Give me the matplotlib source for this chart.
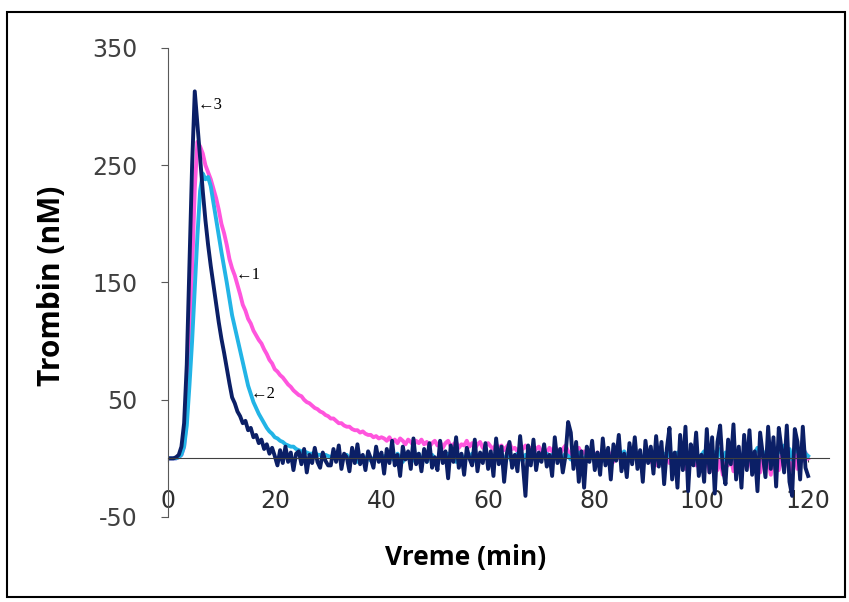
import numpy as np
import matplotlib.pyplot as plt
from matplotlib.patches import Rectangle

plt.rcParams['axes.unicode_minus'] = False

# vreme (min), korak 0.5 min
minutes = np.arange(0, 120.5, 0.5)

# kriva 1 (roze)
trombin_1 = [0, 0, 0, 0, 1, 3, 10, 35, 90, 160, 230, 270, 266, 260, 250, 244, 238, 230, 222, 212, 200,
             192, 182, 170, 162, 156, 148, 140, 131, 126, 119, 115, 109, 105, 101, 98, 93, 89, 84, 81, 76,
             74, 71, 69, 66, 63, 61, 58, 56, 54, 53, 50, 48, 47, 45, 43, 42, 40, 39, 37, 36,
             34, 34, 32, 30, 30, 28, 27, 27, 25, 24, 24, 22, 23, 21, 20, 20, 18, 19, 17, 18,
             17, 15, 18, 14, 16, 13, 17, 15, 12, 16, 14, 11, 15, 13, 16, 12, 14, 10, 13, 15,
             11, 14, 9, 13, 15, 10, 12, 14, 9, 12, 11, 15, 10, 13, 8, 12, 14, 9, 11, 13,
             10, 8, 12, 9, 11, 7, 10, 13, 8, 9, 6, 10, 8, 11, 7, 9, 5, 8, 10, 6,
             8, 5, 9, 6, 10, 7, 4, 8, 11, 6, 3, 7, 5, 9, 4, 6, 2, 7, 5, 3,
             5, 1, 4, -2, 6, 2, -3, 5, 0, 3, -4, 4, 1, -2, 5, -1, 2, -5, 3, 0,
             -3, 4, -6, 2, -1, -8, 3, -4, 1, -7, 2, -5, 4, -9, 0, -3, 5, -6, -2, 3,
             -8, 2, -12, -3, 4, -10, -1, -14, 3, -6, 0, -11, 5, -4, -13, 2, -7, -1, -10, 4,
             -6, -12, 3, -9, 0, -14, 5, -5, -10, 2, -8, 6, -12, -3, 4, -9, 8, -2, 5, 0]

# kriva 2 (plava)
trombin_2 = [0, 0, 0, 0, 1, 3, 10, 28, 62, 100, 145, 190, 228, 243, 238, 240, 232, 218, 204, 190, 176,
             163, 150, 136, 122, 112, 102, 92, 82, 72, 62, 55, 48, 43, 38, 34, 30, 26, 23, 21, 18,
             17, 15, 14, 12, 11, 10, 10, 8, 7, 6, 6, 5, 4, 4, 5, 3, 3, 2, 3, 2,
             1, 3, 0, 2, -2, 1, 3, -1, 2, 0, -3, 2, 1, -1, 3, -2, 0, 2, -1, 1,
             2, -1, 3, 0, -2, 4, 1, -3, 2, 0, 3, -2, 1, 4, -1, 2, -3, 1, 3, 0,
             -2, 3, 1, -1, 4, 0, 2, -3, 1, 3, -1, 2, 0, 4, -2, 1, 3, -1, 2, 0,
             3, -2, 1, 4, 0, -1, 3, 1, -3, 2, 4, 0, -2, 3, 1, -1, 4, 2, -2, 1,
             2, 4, -1, 3, 0, 5, -2, 1, 4, 2, -1, 3, 0, 5, 1, -2, 3, 4, 0, 2,
             4, 1, -2, 5, 2, 0, 3, -1, 4, 2, 6, 0, 3, -2, 5, 1, 4, -1, 3, 2,
             5, 0, 3, 6, -2, 4, 1, 7, 2, -1, 5, 3, 0, 6, 2, 4, -3, 5, 1, 3,
             6, 2, -3, 7, 4, 1, 8, -2, 5, 3, 9, 0, 6, 2, -4, 7, 3, 8, 1, 5,
             9, 3, 6, -2, 8, 4, 10, 1, 7, 5, 11, 2, 8, -1, 9, 6, 3, 10, 4, 2]

# kriva 3 (tamno plava)
trombin_3 = [0, 0, 0, 1, 3, 10, 30, 80, 165, 250, 313, 285, 258, 228, 203, 182, 164, 148, 132, 116, 102,
             90, 77, 64, 52, 47, 40, 36, 30, 32, 24, 26, 18, 20, 13, 16, 8, 12, 4, 9, 2,
             -6, 7, -4, 10, -3, 5, -10, 4, 6, -5, 8, -12, 3, -4, 9, -3, -8, 5, -2, -6,
             -6, 8, -3, 11, -9, 4, 1, -11, 9, -4, 12, -5, 3, -10, 6, 0, -8, 10, -3, 5,
             -13, 8, -4, 15, -6, 3, -15, 10, -1, 6, -9, 17, -5, 4, -11, 8, -3, 13, -8, 1,
             -10, 15, -4, 6, -17, 11, -3, 18, -8, 4, -14, 9, 0, -6, 16, -11, 5, -4, 13, -9,
             6, -15, 17, -5, 10, -20, 4, 14, -8, 3, -11, 19, -4, -32, 11, -6, 16, -10, 5, -3,
             12, -7, 3, -15, 18, -4, 8, -12, 2, 31, 22, -9, 14, -20, 6, -25, 10, -3, 15, -10,
             5, -14, 17, -6, 9, -18, 12, -2, 20, -11, 4, -16, 13, -5, 18, -9, 7, -20, 15, -4,
             10, -13, 19, -7, 14, -22, 8, 26, -18, 5, -25, 20, -10, 27, -28, 12, -6, 22, -15, 3,
             -20, 25, -12, 18, -30, 14, 28, -8, -22, 16, -5, 29, -18, 10, -25, 20, -10, 24, -14, 6,
             -28, 22, 3, -16, 27, -9, 18, -24, 26, 8, -12, 28, -20, -32, 25, 14, -18, 27, -8, -15]

y_ticks = [-50, 50, 150, 250, 350]
x_ticks = [0, 20, 40, 60, 80, 100, 120]

fig = plt.figure(figsize=(8.49, 6.02), dpi=100)
ax = fig.add_axes([0.198, 0.1412, 0.779, 0.7791])

ax.plot(minutes, trombin_1, color='#FF55DD', lw=2.8)
ax.plot(minutes, trombin_2, color='#22B4E6', lw=2.8)
ax.plot(minutes, trombin_3, color='#0B1F66', lw=2.8)

ax.set_xlim(0, 124)
ax.set_ylim(-50, 350)
ax.set_xticks(x_ticks)
ax.set_yticks(y_ticks)

# x osa prolazi kroz nulu
ax.spines['bottom'].set_position(('data', 0))
ax.spines['top'].set_visible(False)
ax.spines['right'].set_visible(False)
ax.spines['left'].set_color('#595959')
ax.spines['bottom'].set_color('#404040')
ax.tick_params(axis='y', direction='out', length=5, color='#595959', labelsize=17,
               labelcolor='#404040', pad=17)
ax.tick_params(axis='x', direction='out', length=3, color='#404040', labelsize=17,
               labelcolor='#303030', pad=19)

# oznake krivih
serif = ['Liberation Serif', 'DejaVu Serif']
ax.text(5.6, 301, '←3', family=serif, fontsize=12, ha='left', va='center')
ax.text(12.6, 156, '←1', family=serif, fontsize=12, ha='left', va='center')
ax.text(15.4, 55, '←2', family=serif, fontsize=12, ha='left', va='center')

fig.text(52 / 849, 1 - 286 / 602, 'Trombin (nM)', rotation=90, ha='center', va='center',
         fontsize=21.5, fontweight='bold', family='Open Sans')
fig.text(466 / 849, 1 - 558 / 602, 'Vreme (min)', ha='center', va='center',
         fontsize=19, fontweight='bold', family='Open Sans')

# okvir oko slike
fig.patches.append(Rectangle((7 / 849, 1 - 597 / 602), 838 / 849, 585 / 602, fill=False,
                             lw=1.5, edgecolor='black', transform=fig.transFigure))

plt.savefig('out.png', dpi=100)
